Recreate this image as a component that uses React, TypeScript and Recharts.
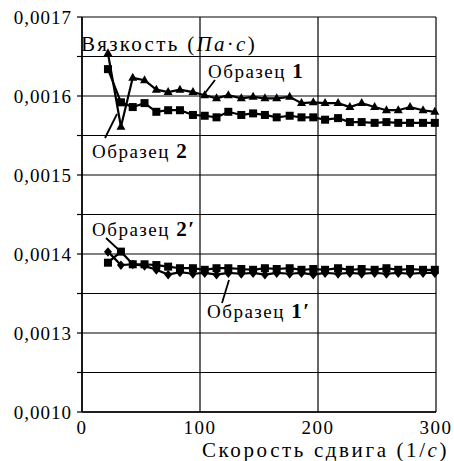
import React from 'react';
import { LineChart, Line, XAxis, YAxis, CartesianGrid } from 'recharts';

// shear rate, 1/s
const shearRate = [22, 33, 43, 53, 63, 73, 83, 94, 104, 114, 124, 135, 145, 155, 165, 176, 186, 196, 206, 217, 227, 237, 248, 258, 268, 278, 289, 299];

// viscosity, Pa·s
const sample1 = [0.001654, 0.001561, 0.001623, 0.00162, 0.001608, 0.001605, 0.001608, 0.001605, 0.001601, 0.001597, 0.001601, 0.001597, 0.001599, 0.001597, 0.001597, 0.001599, 0.001591, 0.001592, 0.001591, 0.001591, 0.001586, 0.001591, 0.001586, 0.001582, 0.001582, 0.001586, 0.001582, 0.00158];
const sample2 = [0.001634, 0.001592, 0.001586, 0.001591, 0.00158, 0.001582, 0.001582, 0.001576, 0.001575, 0.001573, 0.00158, 0.001576, 0.001578, 0.001576, 0.001573, 0.001575, 0.001573, 0.001573, 0.00157, 0.001572, 0.001567, 0.001567, 0.001566, 0.001567, 0.001566, 0.001566, 0.001566, 0.001566];
const sample1p = [0.001403, 0.001386, 0.001387, 0.001385, 0.00138, 0.001374, 0.001377, 0.001375, 0.001376, 0.001374, 0.001376, 0.001375, 0.001376, 0.001374, 0.001376, 0.001375, 0.001376, 0.001374, 0.001376, 0.001375, 0.001376, 0.001375, 0.001376, 0.001375, 0.001376, 0.001375, 0.001376, 0.001376];
const sample2p = [0.001389, 0.001403, 0.001387, 0.001387, 0.001386, 0.001384, 0.001382, 0.001382, 0.00138, 0.001382, 0.001382, 0.001381, 0.00138, 0.001382, 0.001381, 0.001382, 0.00138, 0.001381, 0.00138, 0.001382, 0.00138, 0.001381, 0.00138, 0.001382, 0.00138, 0.001381, 0.00138, 0.00138];

const xTicks = [0, 100, 200, 300];
const yTicks = [0.0012, 0.00125, 0.0013, 0.00135, 0.0014, 0.00145, 0.0015, 0.00155, 0.0016, 0.00165, 0.0017];
const yTickLabels = ['0,0010', '', '0,0013', '', '0,0014', '', '0,0015', '', '0,0016', '', '0,0017'];

const data = shearRate.map((x, i) => ({
  x,
  s1: sample1[i],
  s2: sample2[i],
  s1p: sample1p[i],
  s2p: sample2p[i],
}));

const FONT = '"Liberation Serif", serif';

const Triangle = (props: any) => {
  const { cx, cy, index } = props;
  if (cx == null || cy == null) return <g key={index} />;
  return <polygon key={index} points={`${cx},${cy - 5} ${cx - 4.5},${cy + 3} ${cx + 4.5},${cy + 3}`} fill="#000" />;
};

const Square = (props: any) => {
  const { cx, cy, index } = props;
  if (cx == null || cy == null) return <g key={index} />;
  return <rect key={index} x={cx - 4} y={cy - 4} width={8} height={8} fill="#000" />;
};

const Diamond = (props: any) => {
  const { cx, cy, index } = props;
  if (cx == null || cy == null) return <g key={index} />;
  return <polygon key={index} points={`${cx},${cy - 4.5} ${cx + 4},${cy} ${cx},${cy + 5} ${cx - 4},${cy}`} fill="#000" />;
};

const Note = ({ x, y, num }: { x: number; y: number; num: string }) => (
  <text x={x} y={y} fontSize={19} letterSpacing={1.5} fontFamily={FONT} fill="#000">
    Образец <tspan fontWeight="bold" fontSize={21}>{num}</tspan>
  </text>
);

export default function App() {
  return (
    <div style={{ position: 'absolute', left: 0, top: 0, width: 454, height: 461, background: '#fff' }}>
      <LineChart width={454} height={461} data={data} margin={{ top: 17, right: 18, bottom: 0, left: 0 }}>
        <CartesianGrid stroke="#000" strokeWidth={1.2} />
        <XAxis
          dataKey="x"
          type="number"
          domain={[0, 300]}
          ticks={xTicks}
          interval={0}
          height={49}
          tickLine={false}
          tickMargin={3}
          axisLine={{ stroke: '#000', strokeWidth: 1.5 }}
          tick={{ fill: '#000', fontFamily: FONT, fontSize: 19, letterSpacing: 1.5 }}
        />
        <YAxis
          type="number"
          domain={[0.0012, 0.0017]}
          ticks={yTicks}
          interval={0}
          allowDataOverflow
          width={82}
          tickSize={5}
          tickMargin={5}
          tickLine={{ stroke: '#000', strokeWidth: 1.2 }}
          axisLine={{ stroke: '#000', strokeWidth: 1.5 }}
          tick={{ fill: '#000', fontFamily: FONT, fontSize: 19, letterSpacing: 1 }}
          tickFormatter={(v: number) => {
            const i = yTicks.findIndex(t => Math.abs(t - v) < 1e-9);
            return i >= 0 ? yTickLabels[i] : '';
          }}
        />
        <Line dataKey="s1" stroke="#000" strokeWidth={2.2} dot={Triangle} activeDot={false} isAnimationActive={false} />
        <Line dataKey="s2" stroke="#000" strokeWidth={2.2} dot={Square} activeDot={false} isAnimationActive={false} />
        <Line dataKey="s1p" stroke="#000" strokeWidth={2.2} dot={Diamond} activeDot={false} isAnimationActive={false} />
        <Line dataKey="s2p" stroke="#000" strokeWidth={2.2} dot={Square} activeDot={false} isAnimationActive={false} />
      </LineChart>
      <svg width={454} height={461} style={{ position: 'absolute', left: 0, top: 0, pointerEvents: 'none' }}>
        <text x={81} y={51} fontSize={21} letterSpacing={2.3} fontFamily={FONT} fill="#000">
          Вязкость (<tspan fontStyle="italic">Па</tspan>·<tspan fontStyle="italic">с</tspan>)
        </text>
        <text x={202} y={457} fontSize={21} letterSpacing={2.6} fontFamily={FONT} fill="#000">
          Скорость сдвига (1/<tspan fontStyle="italic">с</tspan>)
        </text>
        <Note x={208} y={78} num="1" />
        <Note x={92} y={158} num="2" />
        <Note x={92} y={236} num="2′" />
        <Note x={207} y={318} num="1′" />
        <g stroke="#000" strokeWidth={1.8}>
          <line x1={215} y1={80} x2={202} y2={97} />
          <line x1={105} y1={138} x2={117} y2={114} />
          <line x1={106} y1={238} x2={120} y2={251} />
          <line x1={222} y1={303} x2={229} y2={280} />
        </g>
      </svg>
    </div>
  );
}
